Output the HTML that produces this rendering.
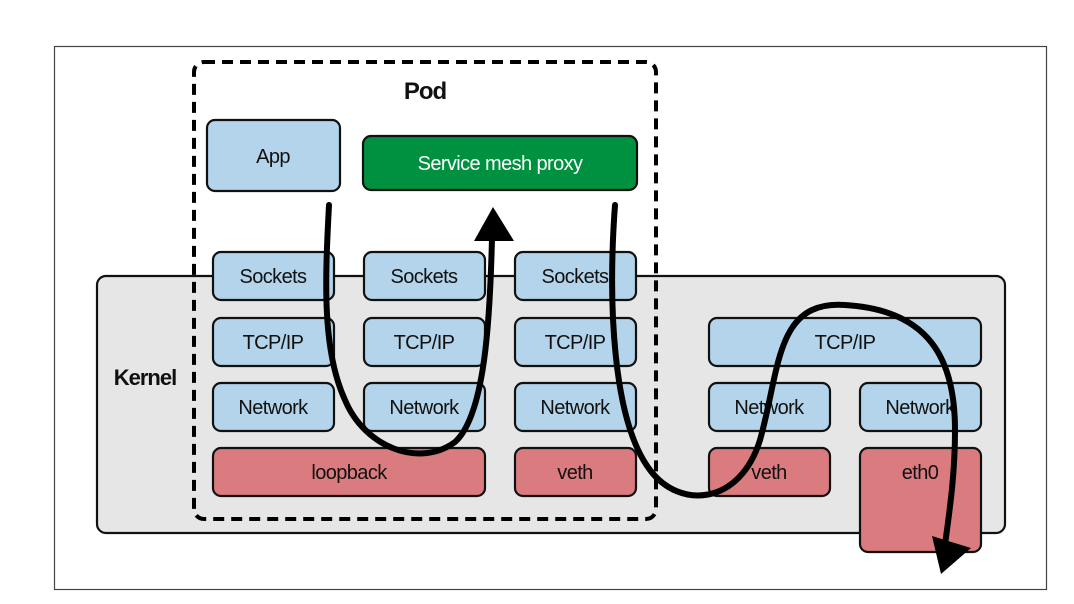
<!DOCTYPE html>
<html><head><style>
html,body{margin:0;padding:0;background:#fff;}
svg{display:block;}
text{font-family:"Liberation Sans",sans-serif;}
</style></head><body>
<svg width="1074" height="604" viewBox="0 0 1074 604" xmlns="http://www.w3.org/2000/svg">
<rect x="54.5" y="46.5" width="992" height="543" fill="#fff" stroke="#444" stroke-width="1.2"/>
<rect x="97" y="276" width="908" height="257" rx="9" fill="#e6e6e6" stroke="#111" stroke-width="2.2"/>
<text x="145" y="385" font-size="22" text-anchor="middle" fill="#111" font-weight="bold" letter-spacing="-1">Kernel</text>
<rect x="194" y="62" width="462" height="457" rx="10" fill="none" stroke="#000" stroke-width="4" stroke-dasharray="11,7"/>
<text x="425" y="99" font-size="24" text-anchor="middle" fill="#111" font-weight="bold" letter-spacing="-1">Pod</text>
<g stroke="#111" stroke-width="2.2">
<rect x="207" y="120" width="133" height="71" rx="8" fill="#b3d4ea"/>
<rect x="363" y="136" width="274" height="54" rx="8" fill="#009140"/>
<rect x="213" y="252" width="121" height="48" rx="8" fill="#b3d4ea"/>
<rect x="364" y="252" width="121" height="48" rx="8" fill="#b3d4ea"/>
<rect x="515" y="252" width="121" height="48" rx="8" fill="#b3d4ea"/>
<rect x="213" y="318" width="121" height="48" rx="8" fill="#b3d4ea"/>
<rect x="364" y="318" width="121" height="48" rx="8" fill="#b3d4ea"/>
<rect x="515" y="318" width="121" height="48" rx="8" fill="#b3d4ea"/>
<rect x="709" y="318" width="272" height="48" rx="8" fill="#b3d4ea"/>
<rect x="213" y="383" width="121" height="48" rx="8" fill="#b3d4ea"/>
<rect x="364" y="383" width="121" height="48" rx="8" fill="#b3d4ea"/>
<rect x="515" y="383" width="121" height="48" rx="8" fill="#b3d4ea"/>
<rect x="709" y="383" width="121" height="48" rx="8" fill="#b3d4ea"/>
<rect x="860" y="383" width="121" height="48" rx="8" fill="#b3d4ea"/>
<rect x="213" y="448" width="272" height="48" rx="8" fill="#da7c7f"/>
<rect x="515" y="448" width="121" height="48" rx="8" fill="#da7c7f"/>
<rect x="709" y="448" width="121" height="48" rx="8" fill="#da7c7f"/>
<rect x="860" y="448" width="121" height="104" rx="8" fill="#da7c7f"/>
</g>
<g font-size="20" fill="#111" text-anchor="middle" letter-spacing="-0.6">
<text x="273" y="163">App</text>
<text x="500" y="170" fill="#fff">Service mesh proxy</text>
<text x="273" y="283">Sockets</text><text x="424" y="283">Sockets</text><text x="575" y="283">Sockets</text>
<text x="273" y="349">TCP/IP</text><text x="424" y="349">TCP/IP</text><text x="575" y="349">TCP/IP</text><text x="845" y="349">TCP/IP</text>
<text x="273" y="414">Network</text><text x="424" y="414">Network</text><text x="575" y="414">Network</text><text x="769" y="414">Network</text><text x="920" y="414">Network</text>
<text x="349" y="479">loopback</text><text x="575" y="479">veth</text><text x="769" y="479">veth</text><text x="920" y="479">eth0</text>
</g>
<g fill="none" stroke="#000" stroke-width="6" stroke-linecap="round">
<path d="M329,205 C325,280 322,350 345,400 C365,448 420,468 455,442 C485,415 490,320 492,238"/>
<path d="M615,205 C608,300 612,420 650,470 C680,510 740,505 760,440 C780,370 775,300 845,305 C930,310 955,360 955,430 C955,480 948,520 945,545"/>
</g>
<polygon points="493,207 474,241 514,241" fill="#000"/>
<polygon points="941,574 932,536 971,548" fill="#000"/>
</svg>
</body></html>
